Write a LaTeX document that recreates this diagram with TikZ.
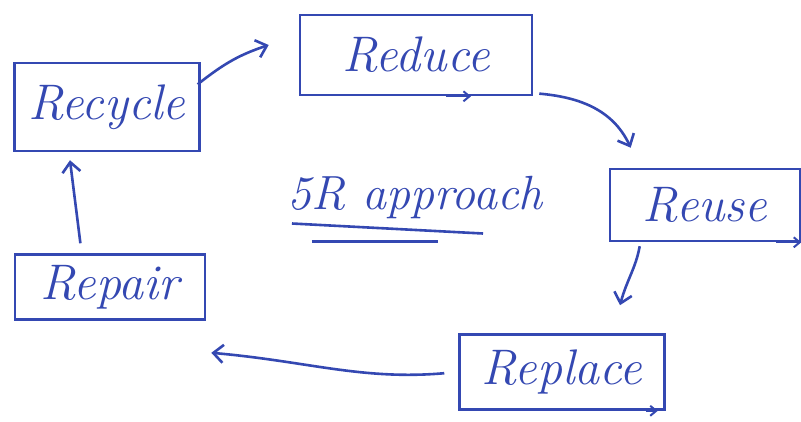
\documentclass[tikz,border=0pt]{standalone}
\usetikzlibrary{arrows.meta}
\definecolor{ink}{RGB}{52,72,178}
\begin{document}
\begin{tikzpicture}[x=1pt,y=-1pt,
  box/.style={draw=ink,line width=2.6pt,text=ink,inner sep=0pt,
    font=\fontsize{50}{52}\selectfont\itshape},
  link/.style={draw=ink,line width=2.6pt,-{Straight Barb[length=10pt,width=18pt]}},
  tick/.style={draw=ink,line width=2pt,-{Straight Barb[length=6pt,width=10pt]}}]
\useasboundingbox[fill=white] (0,0) rectangle (801,422);
\node[box,minimum width=185pt,minimum height=88pt] (recycle) at (107,107) {Recycle};
\node[box,minimum width=232pt,minimum height=80pt] (reduce) at (416,55) {Reduce};
\node[box,minimum width=190pt,minimum height=72pt] (reuse) at (705,205) {Reuse};
\node[box,minimum width=205pt,minimum height=75pt] (replace) at (562,372) {Replace};
\node[box,minimum width=190pt,minimum height=65pt] (repair) at (110,287) {Repair};
\node[text=ink,inner sep=0pt,font=\fontsize{48}{50}\selectfont\itshape] (title) at (415,198) {5R approach};
\draw[ink,line width=2.6pt] ([xshift=5pt,yshift=-4pt]title.south west) -- ([xshift=-60pt,yshift=-14pt]title.south east);
\draw[ink,line width=2.6pt] ([xshift=25pt,yshift=-22pt]title.south west) -- ([xshift=-105pt,yshift=-22pt]title.south east);
% small ticks on box edges
\draw[tick] ([xshift=30pt]reduce.south) -- ([xshift=55pt]reduce.south);
\draw[tick] ([xshift=-25pt]reuse.south east) -- (reuse.south east);
\draw[tick] ([xshift=-20pt]replace.south east) -- ([xshift=-8pt]replace.south east);
% arrow end points
\coordinate (reduceIn) at ([xshift=-30pt,yshift=10pt]reduce.west);
\coordinate (reuseIn) at ([xshift=22pt,yshift=20pt]reuse.north west);
\coordinate (replaceIn) at ([xshift=58pt,yshift=28pt]replace.north);
\coordinate (repairIn) at ([xshift=5pt,yshift=-32pt]repair.south east);
% cycle connectors
\draw[link,shorten <=-4pt] (recycle.15) to[bend left=10] (reduceIn);
\draw[link,shorten <=6pt] (reduce.-18) to[out=-5,in=115] (reuseIn);
\draw[link,shorten <=4pt] (reuse.-150) to[out=-100,in=75] (replaceIn);
\draw[link,shorten <=14pt] (replace.west) to[out=185,in=-5] (repairIn);
\draw[link,shorten <=10pt,shorten >=8pt] (repair.130) -- (recycle.-130);
\end{tikzpicture}
\end{document}
